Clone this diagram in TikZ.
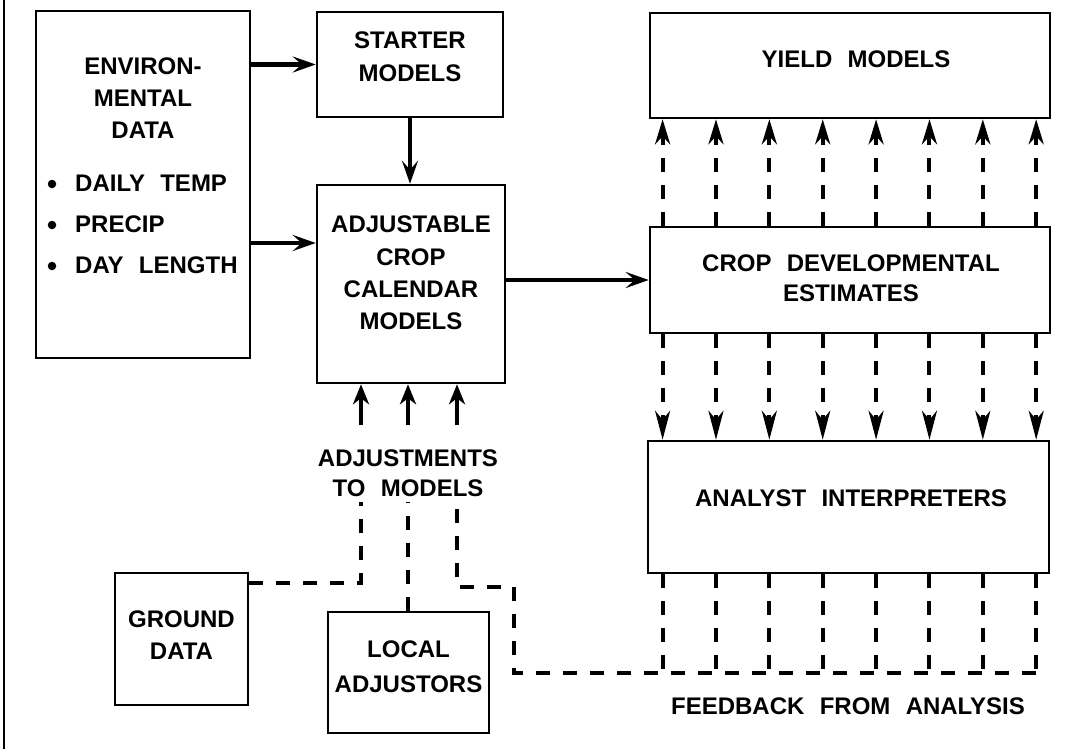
\documentclass[tikz,border=0pt]{standalone}
\usepackage{fontspec}
\setmainfont[WordSpace=2.3]{Liberation Sans}
\usetikzlibrary{arrows.meta}
\begin{document}
\begin{tikzpicture}[x=1pt,y=-1pt,
  box/.style={draw, line width=2.5pt, inner sep=0pt},
  txt/.style={font=\fontsize{24}{32.5}\selectfont\bfseries, inner sep=0pt, align=center, anchor=north},
  solidarrow/.style={line width=4.5pt, -{Stealth[length=23pt,width=16pt,inset=9pt]}},
  adjarrow/.style={line width=4.5pt, -{Stealth[length=20pt,width=16pt,inset=6pt]}},
  dashline/.style={line width=4pt, dash pattern=on 14pt off 13pt},
  uparrow/.style={dashline, -{Stealth[length=25pt,width=15pt,inset=8pt]}},
  downarrow/.style={dashline, -{Stealth[length=29pt,width=15pt,inset=9pt]}},
  bullet/.style={circle, fill, inner sep=0pt, minimum size=8.5pt}
]
\useasboundingbox (0,0) rectangle (1070,749);
\draw[line width=2.5pt] (4,0) -- (4,749);

% boxes
\node[box, minimum width=214pt, minimum height=347pt] (env) at (143,184.5) {};
\node[box, minimum width=186pt, minimum height=105pt] (starter) at (410,64.5) {};
\node[box, minimum width=188pt, minimum height=198pt] (adj) at (411,284) {};
\node[box, minimum width=400pt, minimum height=105pt] (yield) at (850,65.5) {};
\node[box, minimum width=400pt, minimum height=106pt] (crop) at (850,280) {};
\node[box, minimum width=401pt, minimum height=132pt] (analyst) at (848.5,507) {};
\node[box, minimum width=133pt, minimum height=132pt] (ground) at (181.5,639) {};
\node[box, minimum width=161pt, minimum height=121pt] (local) at (408.5,672.5) {};

% texts
\node[txt, font=\fontsize{24}{32}\selectfont\bfseries] (tenv) at (143,57.8) {ENVIRON-\\MENTAL\\DATA};
\node[txt, align=left, anchor=north west, font=\fontsize{24}{41}\selectfont\bfseries] (tlist) at (75,174.8) {DAILY TEMP\\PRECIP\\DAY LENGTH};
\node[bullet] (b1) at (52,184) {};
\node[bullet] (b2) at (52,225) {};
\node[bullet] (b3) at (52,266) {};
\node[txt, font=\fontsize{24}{33}\selectfont\bfseries] (tstarter) at (410,31.8) {STARTER\\MODELS};
\node[txt, font=\fontsize{24}{32.4}\selectfont\bfseries] (tadj) at (411,215.8) {ADJUSTABLE\\CROP\\CALENDAR\\MODELS};
\node[txt] (tyield) at (856,50.8) {YIELD MODELS};
\node[txt, font=\fontsize{24}{30}\selectfont\bfseries] (tcrop) at (851,254.8) {CROP DEVELOPMENTAL\\ESTIMATES};
\node[txt] (tanalyst) at (851,489.8) {ANALYST INTERPRETERS};
\node[txt, font=\fontsize{24}{30}\selectfont\bfseries] (tadjm) at (408,449.8) {ADJUSTMENTS\\TO MODELS};
\node[txt, font=\fontsize{24}{32}\selectfont\bfseries] (tground) at (181.5,610.8) {GROUND\\DATA};
\node[txt, font=\fontsize{24}{35}\selectfont\bfseries] (tlocal) at (408.5,640.8) {LOCAL\\ADJUSTORS};
\node[txt] (tfeed) at (848,697.8) {FEEDBACK FROM ANALYSIS};

% solid arrows
\coordinate (a2) at (0,243);
\draw[solidarrow] (env.east |- starter.west) -- (starter.west);
\draw[solidarrow] (env.east |- a2) -- (adj.west |- a2);
\draw[solidarrow] (starter.south -| 410,0) -- (adj.north -| 410,0);
\draw[solidarrow] (adj.east |- crop.west) -- (crop.west);

% adjustment arrows and dashed feeds
\coordinate (ja) at (361,502);
\coordinate (jb) at (408,502);
\coordinate (jc) at (457,502);
\coordinate (sa) at (361,425);
\coordinate (sb) at (408,425);
\coordinate (sc) at (457,425);
\draw[adjarrow] (sa) -- (adj.south -| sa);
\draw[adjarrow] (sb) -- (adj.south -| sb);
\draw[adjarrow] (sc) -- (adj.south -| sc);

\coordinate (ga) at (361,583);
\draw[dashline] (ground.east |- ga) -- (ga) -- (ja);
\draw[dashline] (local.north -| jb) -- (jb);

\coordinate (fbR) at (1036.2,673);
\coordinate (fbL) at (514,673);
\coordinate (fbC) at (514,587);
\coordinate (fbD) at (457,587);
\draw[dashline] (fbR) -- (fbL) -- (fbC) -- (fbD) -- (jc);

% vertical dashed arrows
\foreach \i in {0,...,7}{
  \coordinate (c\i) at ({662.6+53.37*\i},0);
  \draw[uparrow] (crop.north -| c\i) -- (yield.south -| c\i);
  \draw[downarrow] (crop.south -| c\i) -- (analyst.north -| c\i);
  \draw[dashline] (analyst.south -| c\i) -- (fbR -| c\i);
}
\end{tikzpicture}
\end{document}
